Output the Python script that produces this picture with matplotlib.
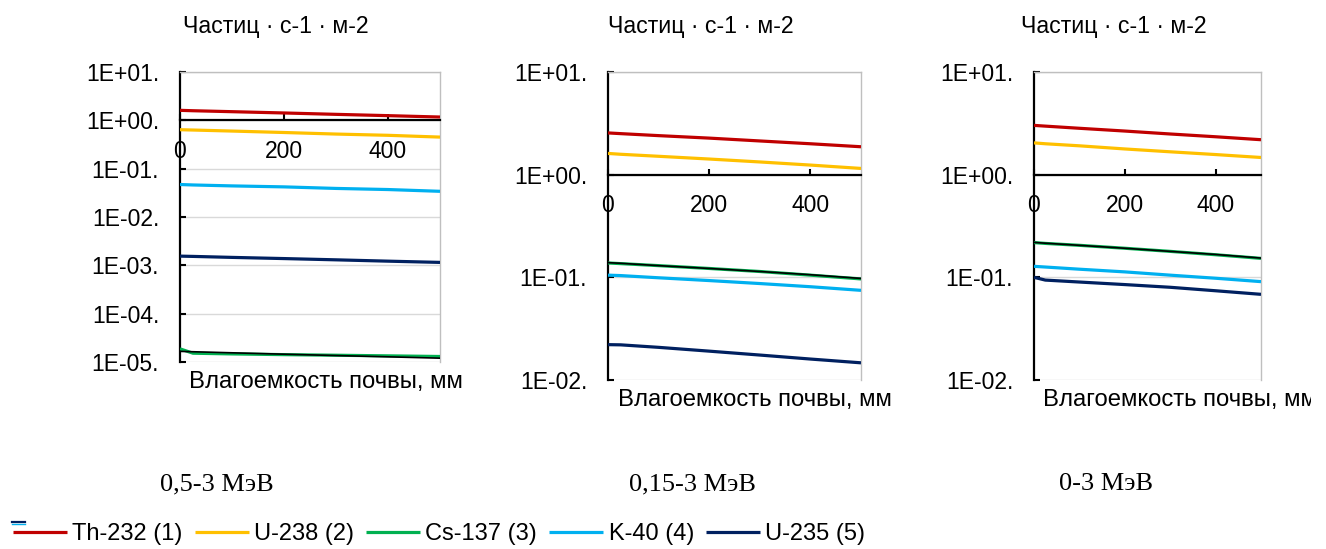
import matplotlib
matplotlib.use("Agg")
import matplotlib.pyplot as plt
from matplotlib.ticker import FuncFormatter, FixedLocator, NullLocator
from matplotlib.lines import Line2D
from matplotlib.transforms import Bbox

plt.rcParams['font.family'] = ['Liberation Sans', 'DejaVu Sans']

W, H = 1326, 549
DPI = 100

# Soil water capacity, mm
moisture = [0, 25, 100, 200, 300, 400, 500]

isotopes = ["Th-232 (1)", "U-238 (2)", "Cs-137 (3)", "K-40 (4)", "U-235 (5)"]
colors = ["#C00000", "#FFC000", "#00B050", "#00B0F0", "#002060"]

energy_labels = ["0,5-3 МэВ", "0,15-3 МэВ", "0-3 МэВ"]

# Flux density, particles per s per m^2 — energy window 0.5–3 MeV
th232_a = [1.61, 1.58, 1.51, 1.42, 1.33, 1.25, 1.17]
u238_a = [0.64, 0.63, 0.60, 0.56, 0.52, 0.49, 0.45]
cs137_a = [1.87e-5, 1.52e-5, 1.47e-5, 1.42e-5, 1.38e-5, 1.34e-5, 1.30e-5]
k40_a = [0.047, 0.046, 0.044, 0.042, 0.039, 0.037, 0.034]
u235_a = [1.55e-3, 1.53e-3, 1.46e-3, 1.38e-3, 1.30e-3, 1.22e-3, 1.15e-3]
cs137_trend_a = [1.66e-5, 1.63e-5, 1.55e-5, 1.45e-5, 1.36e-5, 1.28e-5, 1.20e-5]

# Energy window 0.15–3 MeV
th232_b = [2.55, 2.51, 2.40, 2.27, 2.13, 2.00, 1.87]
u238_b = [1.61, 1.58, 1.51, 1.42, 1.33, 1.24, 1.15]
cs137_b = [0.138, 0.136, 0.130, 0.122, 0.114, 0.105, 0.0965]
k40_b = [0.105, 0.104, 0.099, 0.093, 0.087, 0.081, 0.0747]
u235_b = [0.0221, 0.0220, 0.0208, 0.0191, 0.0175, 0.0160, 0.0147]
cs137_trend_b = [0.139, 0.137, 0.130, 0.122, 0.114, 0.106, 0.0975]

# Energy window 0–3 MeV
th232_c = [3.02, 2.97, 2.83, 2.66, 2.49, 2.34, 2.19]
u238_c = [2.04, 2.00, 1.91, 1.78, 1.67, 1.57, 1.47]
cs137_c = [0.218, 0.214, 0.205, 0.192, 0.179, 0.166, 0.153]
k40_c = [0.128, 0.126, 0.120, 0.113, 0.105, 0.098, 0.0908]
u235_c = [0.100, 0.094, 0.090, 0.085, 0.080, 0.074, 0.0683]
cs137_trend_c = [0.219, 0.215, 0.205, 0.192, 0.179, 0.167, 0.154]

panels = [
    dict(series=[th232_a, u238_a, cs137_a, k40_a, u235_a], trend=cs137_trend_a,
         ylim=(1e-5, 10), ticks=[1e1, 1e0, 1e-1, 1e-2, 1e-3, 1e-4, 1e-5],
         box=(180, 72, 440, 362), ylab=(183, 27), xlab=(189, 382), elab=(217, 484)),
    dict(series=[th232_b, u238_b, cs137_b, k40_b, u235_b], trend=cs137_trend_b,
         ylim=(1e-2, 10), ticks=[1e1, 1e0, 1e-1, 1e-2],
         box=(608, 72, 861, 380), ylab=(608, 27), xlab=(618, 400), elab=(692, 484)),
    dict(series=[th232_c, u238_c, cs137_c, k40_c, u235_c], trend=cs137_trend_c,
         ylim=(1e-2, 10), ticks=[1e1, 1e0, 1e-1, 1e-2],
         box=(1034, 72, 1261, 380), ylab=(1021, 27), xlab=(1043, 400), elab=(1106, 484)),
]

x_ticks = [0, 200, 400]


def fx(px):
    return px / W


def fy(py):
    return 1 - py / H


def sci_label(v, pos):
    return f"{v:.0E}."


fig = plt.figure(figsize=(W / DPI, H / DPI), dpi=DPI)

legend_handles = None
clip = Bbox.from_extents(0, 0, 1311, H)

for i, p in enumerate(panels):
    l, t, r, b = p["box"]
    ax = fig.add_axes([fx(l), fy(b), fx(r) - fx(l), fy(t) - fy(b)])
    ax.set_yscale("log")
    ax.set_xlim(0, 500)
    ax.set_ylim(*p["ylim"])

    handles = []
    for vals, c in zip(p["series"], colors):
        h, = ax.plot(moisture, vals, color=c, lw=2.3, solid_capstyle="butt", zorder=3)
        handles.append(h)
    ax.plot(moisture, p["trend"], color="black", lw=1.2, zorder=4)
    if legend_handles is None:
        legend_handles = handles

    ax.yaxis.set_major_locator(FixedLocator(p["ticks"]))
    ax.yaxis.set_minor_locator(NullLocator())
    ax.yaxis.set_major_formatter(FuncFormatter(sci_label))
    ax.xaxis.set_major_locator(FixedLocator(x_ticks))
    ax.xaxis.set_minor_locator(NullLocator())

    ax.yaxis.grid(True, color="#D9D9D9", lw=1.0, zorder=0)
    ax.set_axisbelow(True)

    ax.spines["bottom"].set_position(("data", 1.0))
    for s in ("left", "bottom"):
        ax.spines[s].set_color("black")
        ax.spines[s].set_linewidth(1.6)
    for s in ("top", "right"):
        ax.spines[s].set_color("#BFBFBF")
        ax.spines[s].set_linewidth(1.0)

    ax.tick_params(axis="y", direction="in", length=4.5, width=1.5,
                   pad=15, labelsize=16.5, colors="black")
    ax.tick_params(axis="x", direction="in", length=4, width=1.5,
                   pad=14, labelsize=16.5, colors="black")

    fig.text(fx(p["ylab"][0]), fy(p["ylab"][1]), "Частиц · с-1 · м-2",
             fontsize=16.7, ha="left", va="center")
    xt = fig.text(fx(p["xlab"][0]), fy(p["xlab"][1]), "Влагоемкость почвы, мм",
                  fontsize=17.2, ha="left", va="center")
    xt.set_clip_box(clip)
    xt.set_clip_on(True)
    fig.text(fx(p["elab"][0]), fy(p["elab"][1]), energy_labels[i],
             fontsize=19, ha="center", va="center",
             family=["Liberation Serif", "DejaVu Serif"])

fig.legend(legend_handles, isotopes, loc="center left",
           bbox_to_anchor=(fx(13), fy(534)), ncol=5, frameon=False,
           fontsize=17, handlelength=2.3, handletextpad=0.22,
           columnspacing=0.5, borderpad=0, borderaxespad=0)

# short stray key stroke above the legend
fig.add_artist(Line2D([fx(12), fx(25)], [fy(521.5), fy(521.5)], color="#002060",
                      lw=1.6, transform=fig.transFigure))
fig.add_artist(Line2D([fx(12), fx(25)], [fy(523.5), fy(523.5)], color="#00B0F0",
                      lw=1.0, transform=fig.transFigure))

fig.savefig("out.png", dpi=DPI)
